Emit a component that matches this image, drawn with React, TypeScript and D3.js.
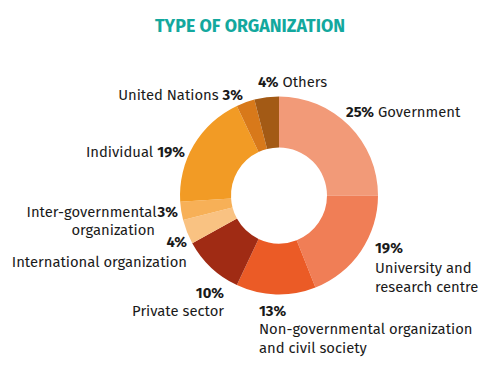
import React from "react";
import * as d3 from "d3";

const categories = [
  "Government",
  "University and research centre",
  "Non-governmental organization and civil society",
  "Private sector",
  "International organization",
  "Inter-governmental organization",
  "Individual",
  "United Nations",
  "Others",
];
const values = [25, 19, 13, 10, 4, 3, 19, 3, 4];
const colors = [
  "#F29A78",
  "#F07E56",
  "#EB5B26",
  "#A02B14",
  "#F9C282",
  "#F7B057",
  "#F29B25",
  "#D8791A",
  "#A35A15",
];

const FONT = "'Fira Sans', 'Open Sans', sans-serif";

export default function App() {
  const W = 500, H = 385;
  const cx = 279, cy = 195.5, R = 99, r = 48;
  const data = categories.map((c, i) => ({ c, v: values[i], col: colors[i] }));
  const pie = d3.pie<any>().value((d) => d.v).sort(null);
  const arcs = pie(data);
  const arc = d3.arc<any>().innerRadius(r).outerRadius(R);
  const fs = 14.8;
  const B = (t: string) => <tspan fontWeight="bold">{t}</tspan>;
  const pct = (i: number) => `${values[i]}%`;
  return (
    <svg width={W} height={H} style={{ position: "absolute", left: 0, top: 0 }} fontFamily={FONT}>
      <rect width={W} height={H} fill="#fff" />
      <text x={250} y={32} textAnchor="middle" fontSize={17.5} fontWeight="bold" fill="#13A89E"
        textLength={190} lengthAdjust="spacingAndGlyphs">TYPE OF ORGANIZATION</text>
      <g transform={`translate(${cx},${cy})`}>
        {arcs.map((a, i) => (
          <path key={i} d={arc(a) as string} fill={a.data.col} />
        ))}
      </g>
      <g fontSize={fs} fill="#1a1a1a" dominantBaseline="central">
        <text x={346} y={112}>{B(pct(0))} {categories[0]}</text>
        <text x={375} y={248}>{B(pct(1))}</text>
        <text x={375} y={268}>University and</text>
        <text x={375} y={287}>research centre</text>
        <text x={259} y={311}>{B(pct(2))}</text>
        <text x={259} y={329}>Non-governmental organization</text>
        <text x={259} y={348}>and civil society</text>
        <text x={224} y={293} textAnchor="end">{B(pct(3))}</text>
        <text x={224} y={311} textAnchor="end">Private sector</text>
        <text x={187} y={242} textAnchor="end">{B(pct(4))}</text>
        <text x={187} y={262} textAnchor="end">International organization</text>
        <text x={178} y={212} textAnchor="end">Inter-governmental<tspan dx={1} fontWeight="bold">{pct(5)}</tspan></text>
        <text x={155} y={230} textAnchor="end">organization</text>
        <text x={185} y={152} textAnchor="end">Individual {B(pct(6))}</text>
        <text x={243} y={95} textAnchor="end">United Nations {B(pct(7))}</text>
        <text x={258} y={82}>{B(pct(8))} Others</text>
      </g>
    </svg>
  );
}
